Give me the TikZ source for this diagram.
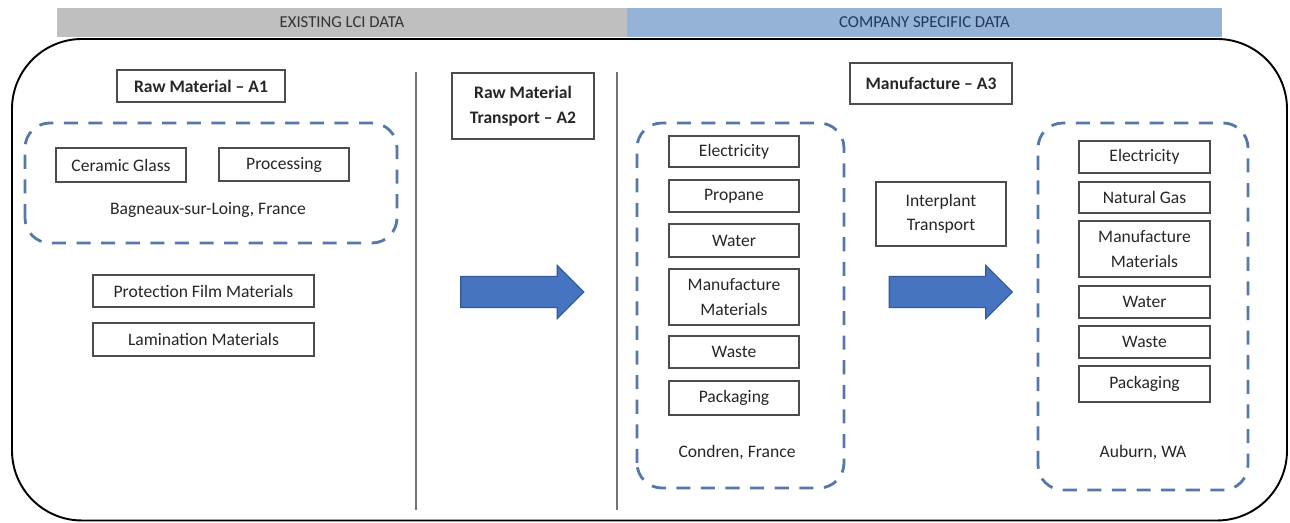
\documentclass[tikz,border=0pt]{standalone}
\usepackage{fontspec}
\setmainfont{Carlito}
\usepackage{tikz}
\usetikzlibrary{shapes.arrows}
\definecolor{bargray}{RGB}{191,191,191}
\definecolor{barblue}{RGB}{149,179,215}
\definecolor{bartext}{RGB}{31,56,92}
\definecolor{dashblue}{RGB}{84,120,170}
\definecolor{flowblue}{RGB}{70,116,193}
\definecolor{flowedge}{RGB}{50,90,150}

\begin{document}
\begin{tikzpicture}[every node/.style={font=\fontsize{10}{14}\selectfont, text=black!85},
    item/.style={draw=black!70, line width=0.6pt, align=center, inner sep=0pt, minimum width=2.6cm},
    title/.style={item, font=\fontsize{10}{14}\selectfont\bfseries},
    region/.style={draw=dashblue, line width=1.6pt, dash pattern=on 8pt off 6pt, rounded corners=0.5cm},
    flow/.style={shape=single arrow, fill=flowblue, draw=flowedge, line width=0.6pt, minimum height=2.46cm, single arrow head extend=0.22cm, inner sep=0.3cm}]
        \useasboundingbox (0,0) rectangle (25.8,10.46);
        % Data source bars
        \fill[bargray] (1.14,9.72) rectangle (12.54,10.30);
        \node[text=black!80, font=\fontsize{9.5}{11}\selectfont] (lci) at (6.84,10.01) {EXISTING LCI DATA};
        \fill[barblue] (12.54,9.72) rectangle (24.44,10.30);
        \node[text=bartext, font=\fontsize{9.5}{11}\selectfont] (company) at (18.49,10.01) {COMPANY SPECIFIC DATA};
        % Outer frame and stage separators
        \draw[line width=1.1pt, rounded corners=1.4cm] (0.24,0.05) rectangle (25.74,9.68);
        \draw[black!55, line width=0.9pt] (8.32,9.02) -- (8.32,0.26);
        \draw[black!55, line width=0.9pt] (12.34,9.02) -- (12.34,0.26);
        % Raw material - A1
        \node[title, minimum width=3.36cm, minimum height=0.64cm] (a1) at (4.02,8.74) {Raw Material -- A1};
        \draw[region] (0.5,5.6) rectangle (7.94,8.0);
        \node[item, minimum height=0.68cm] (glass) at (2.42,7.16) {Ceramic Glass};
        \node[item, minimum height=0.66cm] (proc) at (5.68,7.17) {Processing};
        \node (bagneaux) at (4.16,6.26) {Bagneaux-sur-Loing, France};
        \node[item, minimum width=4.42cm, minimum height=0.64cm] (film) at (4.07,4.64) {Protection Film Materials};
        \node[item, minimum width=4.42cm, minimum height=0.66cm] (lamin) at (4.07,3.67) {Lamination Materials};
        % Raw material transport - A2
        \node[title, minimum width=2.84cm, minimum height=1.32cm] (a2) at (10.46,8.34) {Raw Material\\Transport -- A2};
        \node[flow] (arrA) at (10.29,4.62) {};
        % Manufacture - A3
        \node[title, minimum width=3.24cm, minimum height=0.82cm] (a3) at (18.62,8.79) {Manufacture -- A3};
        % Condren plant
        \draw[region] (12.74,0.70) rectangle (16.88,8.0);
        \node[item, minimum height=0.62cm] (elecC) at (14.68,7.43) {Electricity};
        \node[item, minimum height=0.64cm] (propC) at (14.68,6.54) {Propane};
        \node[item, minimum height=0.66cm] (watC) at (14.68,5.65) {Water};
        \node[item, minimum height=1.12cm] (matC) at (14.68,4.52) {Manufacture\\Materials};
        \node[item, minimum height=0.64cm] (wasC) at (14.68,3.42) {Waste};
        \node[item, minimum height=0.68cm] (packC) at (14.68,2.50) {Packaging};
        \node (condren) at (14.74,1.40) {Condren, France};
        % Interplant transport
        \node[item, minimum height=1.28cm] (inter) at (18.82,6.18) {Interplant\\Transport};
        \node[flow] (arrB) at (18.86,4.62) {};
        % Auburn plant
        \draw[region] (20.76,0.66) rectangle (24.96,8.0);
        \node[item, minimum width=2.62cm, minimum height=0.64cm] (elecW) at (22.89,7.32) {Electricity};
        \node[item, minimum width=2.62cm, minimum height=0.62cm] (gasW) at (22.89,6.51) {Natural Gas};
        \node[item, minimum width=2.62cm, minimum height=1.12cm] (matW) at (22.89,5.48) {Manufacture\\Materials};
        \node[item, minimum width=2.62cm, minimum height=0.64cm] (watW) at (22.89,4.42) {Water};
        \node[item, minimum width=2.62cm, minimum height=0.64cm] (wasW) at (22.89,3.62) {Waste};
        \node[item, minimum width=2.62cm, minimum height=0.72cm] (packW) at (22.89,2.78) {Packaging};
        \node (auburn) at (22.86,1.40) {Auburn, WA};
    \end{tikzpicture}
\end{document}
